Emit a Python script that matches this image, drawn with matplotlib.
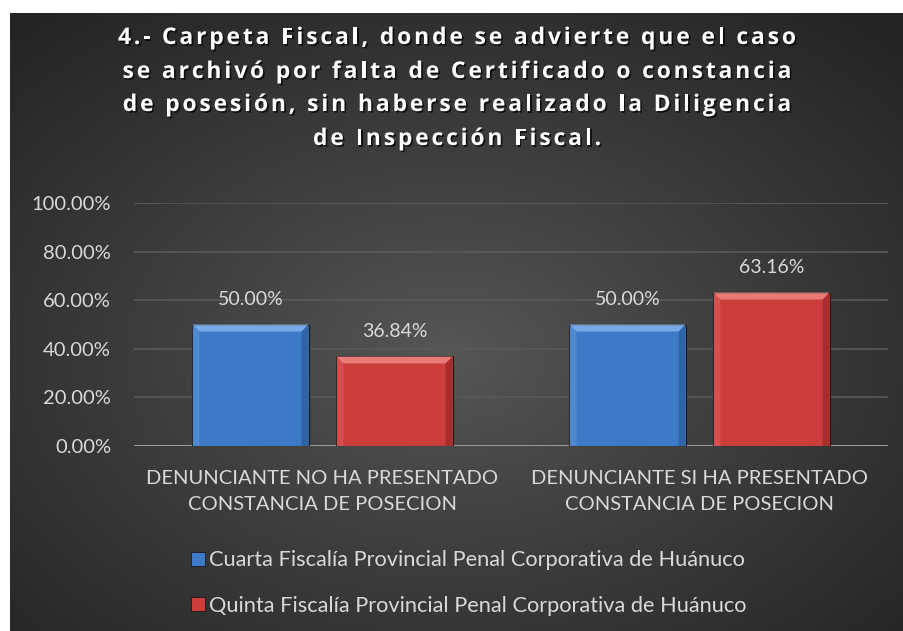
import numpy as np
import matplotlib
matplotlib.use("Agg")
import matplotlib.pyplot as plt
from matplotlib.patches import Polygon
import matplotlib.patheffects as pe
from matplotlib.lines import Line2D
from matplotlib.font_manager import FontProperties

categories = ["DENUNCIANTE NO HA PRESENTADO\nCONSTANCIA DE POSECION",
              "DENUNCIANTE SI HA PRESENTADO\nCONSTANCIA DE POSECION"]
series_names = ["Cuarta Fiscalía Provincial Penal Corporativa de Huánuco",
                "Quinta Fiscalía Provincial Penal Corporativa de Huánuco"]
cuarta = [50.00, 50.00]
quinta = [36.84, 63.16]
yticks = [0, 20, 40, 60, 80, 100]
title_lines = ["4.- Carpeta Fiscal, donde se advierte que el caso",
               "se archivó por falta de Certificado o constancia",
               "de posesión, sin haberse realizado la Diligencia",
               "de Inspección Fiscal."]

W, H, DPI = 904, 631, 100
fig = plt.figure(figsize=(W / DPI, H / DPI), dpi=DPI)
fig.patch.set_facecolor("white")
FONT = "Lato"
TXT = "#d9d9d9"

# background with radial gradient
bx0, by1 = 10, 13
bg = fig.add_axes([bx0 / W, 0, (W - bx0) / W, (H - by1) / H])
bg.set_axis_off()
yy, xx = np.mgrid[0:300, 0:440]
cx, cy = 215, 165
r = np.sqrt(((xx - cx) / 440) ** 2 + ((yy - cy) / 300) ** 2) / 0.72
r = np.clip(r, 0, 1) ** 0.9
c0 = np.array([0x57, 0x57, 0x57]) / 255
c1 = np.array([0x24, 0x24, 0x24]) / 255
img = c0[None, None, :] * (1 - r[..., None]) + c1[None, None, :] * r[..., None]
bg.imshow(img, aspect="auto", extent=[0, 1, 0, 1], interpolation="bilinear")
bg.set_xlim(0, 1); bg.set_ylim(0, 1)

# main axes
axl, axr, axt, axb = 134, 888, 203, 446
ax = fig.add_axes([axl / W, 1 - axb / H, (axr - axl) / W, (axb - axt) / H])
ax.set_facecolor("none")
ax.set_ylim(0, 100)
ax.set_xlim(-0.5, 1.5)
for s in ax.spines.values():
    s.set_visible(False)
ax.set_yticks(yticks)
ax.set_yticklabels([f"{v:.2f}%" for v in yticks], fontsize=14.5, color=TXT, family=FONT)
ax.tick_params(axis="y", length=0, pad=16.5)
ax.set_xticks(range(len(categories)))
ax.set_xticklabels(categories, fontsize=14.5, color=TXT, family=FONT, linespacing=1.67)
ax.tick_params(axis="x", length=0, pad=17)
ax.grid(axis="y", color="#595959", linewidth=1.2)
ax.set_axisbelow(True)
ax.axhline(0, color="#a6a6a6", linewidth=2, zorder=1)

x = np.arange(len(categories))
bw = 0.308
off = 0.191
colors = [("#3d7bc8", "#86b6ef", "#1f4a80"), ("#cc3d3b", "#f08a88", "#7a1d1c")]
for vals, dx, (fc, hl, dk), name in zip([cuarta, quinta], [-off, off], colors, series_names):
    bars = ax.bar(x + dx, vals, width=bw, color=fc, edgecolor="#1a1a1a", linewidth=0.8,
                  zorder=3, label=name)
    for b, v in zip(bars, vals):
        x0, x1 = b.get_x(), b.get_x() + b.get_width()
        y1 = b.get_height()
        bxd = 7 / ((axr - axl) / 2.0)
        byd = 7 / ((axb - axt) / 100.0)
        top = Polygon([[x0, y1], [x1, y1], [x1 - bxd, y1 - byd], [x0 + bxd, y1 - byd]],
                      closed=True, facecolor=hl, edgecolor="none", alpha=0.8, zorder=4)
        left = Polygon([[x0, 0], [x0, y1], [x0 + bxd, y1 - byd], [x0 + bxd, 0]],
                       closed=True, facecolor=hl, edgecolor="none", alpha=0.25, zorder=4)
        right = Polygon([[x1, 0], [x1, y1], [x1 - bxd, y1 - byd], [x1 - bxd, 0]],
                        closed=True, facecolor=dk, edgecolor="none", alpha=0.45, zorder=4)
        for p in (top, left, right):
            ax.add_patch(p)
        ax.annotate(f"{v:.2f}%", (b.get_x() + b.get_width() / 2, y1), xytext=(0, 18),
                    textcoords="offset points", ha="center", va="center",
                    fontsize=14, color=TXT, family=FONT, zorder=5)

# title with letter spacing (drawn per character)
renderer = fig.canvas.get_renderer()
tprop = FontProperties(family="Open Sans", weight="bold", size=16.5)
def char_w(ch):
    if ch == " ":
        w1, _, _ = renderer.get_text_width_height_descent("a a", tprop, ismath=False)
        w2, _, _ = renderer.get_text_width_height_descent("aa", tprop, ismath=False)
        return w1 - w2
    w, _, _ = renderer.get_text_width_height_descent(ch, tprop, ismath=False)
    return w
widths = [[char_w(c) for c in line] for line in title_lines]
target = 678.0
spacing = (target - sum(widths[0])) / (len(title_lines[0]) - 1)
title_base = [44, 78, 111, 145]
title_cx = 457
shadow = [pe.withSimplePatchShadow(offset=(1.2, -1.2), shadow_rgbFace="black", alpha=0.7)]
for line, ws, yline in zip(title_lines, widths, title_base):
    total = sum(ws) + spacing * (len(line) - 1)
    xp = title_cx - total / 2
    for ch, w in zip(line, ws):
        if ch != " ":
            fig.text(xp / W, 1 - yline / H, ch, ha="left", va="baseline",
                     fontproperties=tprop, color="white", path_effects=shadow)
        xp += w + spacing

# legend
handles = [Line2D([], [], marker="s", linestyle="none", markersize=9.5,
                  markerfacecolor=c[0], markeredgecolor="#1a1a1a", markeredgewidth=0.6)
           for c in colors]
leg = fig.legend(handles, series_names, loc="center", bbox_to_anchor=(467 / W, 1 - 583 / H),
                 ncol=1, frameon=False, fontsize=15.7, handletextpad=0.05, labelspacing=1.15,
                 handlelength=0.9, borderaxespad=0, borderpad=0)
for t in leg.get_texts():
    t.set_color(TXT)
    t.set_family(FONT)

fig.savefig("out.png", dpi=DPI, facecolor=fig.get_facecolor())
